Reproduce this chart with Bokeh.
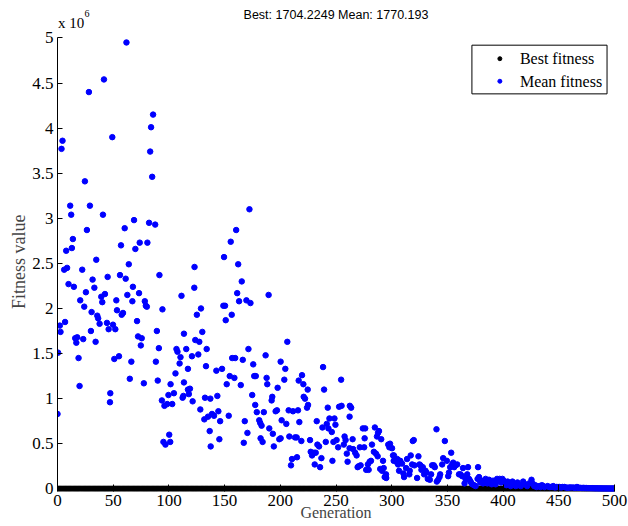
from bokeh.plotting import figure
from bokeh.models import ColumnDataSource, Range1d, FixedTicker, NumeralTickFormatter, Span
from bokeh.embed import file_html
from bokeh.resources import INLINE
from bokeh.core.properties import value

# ---------------- data (fitness values in units of 10^6) ----------------
gens_a = [61.9, 41.7, 28.2, 85.8, 84.0, 4.5, 3.6, 49.2, 83.2, 85.0, 24.6, 11.4, 29.1, 12.3, 40.8,
          68.7, 82.2, 87.7, 26.4, 60.3, 13.8, 57.0, 73.8, 80.7, 7.8, 12.9, 69.9, 34.8, 64.0, 123.0,
          6.0, 8.6, 22.2, 91.5, 45.0, 56.1, 61.2, 31.5]
vals_a = [4.95, 4.54, 4.40, 4.15, 4.01, 3.86, 3.77, 3.90, 3.74, 3.46, 3.41, 3.14, 3.14, 3.04, 3.04,
          2.98, 2.95, 2.93, 2.87, 2.89, 2.77, 2.70, 2.73, 2.73, 2.64, 2.67, 2.66, 2.54, 2.49, 2.46,
          2.43, 2.45, 2.43, 2.37, 2.35, 2.37, 2.33, 2.32]

gens_b = [9.9, 14.7, 33.1, 67.7, 25.5, 42.6, 39.3, 40.2, 73.2, 62.7, 67.2, 20.4, 52.8, 78.4, 79.3,
          80.2, 24.0, 94.2, 128.8, 53.4, 30.6, 58.8, 57.6, 125.1, 111.3, 122.8, 35.7, 36.5, 71.4, 6.8,
          44.4, 37.8, 49.8, 2.1, 45.9, 51.9, 30.0, 89.2, 2.7, 113.5, 130.0, 72.3, 75.6, 15.9, 17.7,
          23.1, 123.7, 127.3, 34.2, 16.9, 74.8, 91.0, 106.8, 115.6, 133.9, 107.7, 0.5, 126.4, 55.2, 110.4,
          120.7, 18.9, 51.0, 66.3, 88.3, 109.6, 133.3, 117.1, 105.9, 64.9, 90.0, 77.5, 101.5, 113.5, 19.8,
          117.1, 118.9, 104.5, 47.4, 112.3, 113.0, 117.9, 99.6, 132.4, 93.7, 137.2, 121.3, 47.1, 98.5, 103.0,
          96.0, 128.2, 135.1, 131.8, 0.0, 136.6, 100.3, 95.1, 101.2, 96.9, 137.5]
vals_b = [2.27, 2.24, 2.23, 2.24, 2.18, 2.16, 2.13, 2.07, 2.17, 2.15, 2.08, 2.09, 2.09, 2.08, 2.03,
          2.02, 2.02, 1.99, 2.00, 1.98, 1.96, 1.95, 1.93, 1.93, 2.14, 2.23, 1.92, 1.89, 1.86, 1.85,
          1.84, 1.83, 1.82, 1.81, 1.77, 1.77, 1.75, 1.75, 1.74, 1.72, 1.74, 1.69, 1.67, 1.67, 1.68,
          1.66, 1.65, 1.63, 1.63, 1.62, 1.59, 1.56, 1.55, 1.55, 1.55, 1.52, 1.51, 1.49, 1.47, 1.46,
          1.47, 1.45, 1.44, 1.41, 1.41, 1.39, 1.36, 1.33, 1.28, 1.22, 1.20, 1.17, 1.16, 1.18, 1.14,
          1.10, 1.11, 1.06, 1.06, 1.01, 1.03, 1.05, 1.04, 1.01, 0.98, 1.00, 0.97, 0.96, 0.94, 0.94,
          0.92, 0.88, 0.80, 0.77, 0.83, 0.64, 0.60, 0.52, 0.52, 0.49, 0.47]

gens_c = [172.3, 160.4, 155.5, 149.5, 162.2, 165.4, 161.3, 189.5, 163.0, 169.6, 173.2, 148.9, 150.4, 156.4, 151.0,
          206.3, 171.4, 186.8, 156.8, 159.5, 166.3, 175.7, 200.3, 204.5, 238.4, 142.6, 147.7, 154.6, 176.6, 178.0,
          187.7, 158.8, 219.5, 203.6, 216.5, 254.6, 151.9, 188.3, 220.7, 164.5, 197.6, 224.6, 239.3, 174.8, 143.5,
          192.8, 192.2, 221.0, 222.2, 177.5, 224.9, 224.0, 207.5, 211.4, 215.9, 197.0, 195.8, 252.8, 255.0, 262.4,
          242.6, 144.4, 178.9, 185.2, 153.7, 138.7, 140.5, 146.0, 168.1, 201.2, 181.1, 182.0, 183.2, 217.1, 205.4,
          244.1, 248.6, 262.2, 232.7, 241.7, 243.2, 249.5, 237.8, 190.1, 246.2, 193.3, 170.5, 208.1, 213.2, 214.7,
          199.1, 200.3, 218.9, 145.3, 182.3, 184.1, 167.2, 194.2, 226.7, 257.7, 258.6, 250.5, 247.7, 251.9, 257.0,
          240.8, 233.3, 234.8, 262.2, 227.3, 228.5, 230.3, 231.8, 236.9, 259.7, 215.0, 210.5, 209.6, 230.9, 235.7,
          246.8, 260.4]
vals_c = [3.10, 2.87, 2.74, 2.57, 2.49, 2.30, 2.17, 2.15, 2.08, 2.09, 2.06, 2.03, 2.03, 1.93, 1.87,
          1.63, 1.55, 1.48, 1.45, 1.45, 1.43, 1.38, 1.41, 1.33, 1.35, 1.31, 1.33, 1.25, 1.25, 1.25,
          1.23, 1.23, 1.26, 1.21, 1.20, 1.21, 1.16, 1.16, 1.16, 1.15, 1.12, 1.10, 1.10, 1.04, 1.03,
          1.02, 0.98, 1.02, 1.00, 0.93, 0.93, 0.90, 0.87, 0.86, 0.87, 0.87, 0.86, 0.91, 0.92, 0.92,
          0.90, 0.86, 0.85, 0.85, 0.81, 0.83, 0.81, 0.75, 0.75, 0.76, 0.76, 0.73, 0.70, 0.74, 0.72,
          0.78, 0.78, 0.80, 0.75, 0.72, 0.67, 0.71, 0.68, 0.67, 0.63, 0.61, 0.62, 0.58, 0.57, 0.57,
          0.55, 0.56, 0.53, 0.55, 0.56, 0.52, 0.51, 0.47, 0.54, 0.58, 0.54, 0.54, 0.52, 0.46, 0.49,
          0.52, 0.49, 0.47, 0.45, 0.41, 0.37, 0.40, 0.40, 0.34, 0.39, 0.35, 0.33, 0.26, 0.27, 0.24,
          0.31, 0.30]

gens_d = [263.6, 264.9, 265.4, 267.2, 268.5, 270.3, 272.1, 271.4, 275.3, 274.1, 276.2, 275.7, 269.4, 277.1, 279.3,
          278.6, 280.2, 281.4, 282.3, 284.9, 287.7, 286.8, 288.6, 290.6, 285.9, 287.4, 284.0, 292.2, 289.7, 291.3,
          293.7, 295.1, 294.9, 292.8, 296.9, 298.5, 300.3, 297.9, 301.2, 301.8, 303.0, 304.1, 302.0, 305.0, 305.7,
          307.7, 309.3, 306.6, 310.5, 311.1, 312.9, 313.8, 317.1, 318.9, 319.8, 318.3, 320.4, 316.2, 315.8, 322.8,
          324.0, 324.9, 325.8, 326.7, 327.9, 329.1, 330.3, 331.2, 332.4, 334.2, 335.4, 336.3, 337.8, 338.7, 340.2,
          340.5, 341.7, 342.9, 343.5, 345.3, 346.2, 347.7, 349.5, 350.7, 351.4, 352.5, 353.4, 354.3, 355.2, 356.1,
          357.3, 358.8, 360.4, 361.8, 364.0, 363.3, 365.4, 366.3, 367.2, 367.8, 368.5, 369.4, 370.3, 371.2, 372.3,
          373.9, 375.3, 377.5, 377.1, 378.4, 379.5, 380.7, 382.0, 383.2, 384.3, 385.9, 387.4, 388.6, 389.7, 391.0,
          392.2, 393.3, 394.6, 395.8, 396.9, 398.2, 399.4, 400.5, 401.8, 403.0, 404.1, 405.4, 406.8, 408.4, 409.9,
          411.4, 412.9, 414.4, 415.9, 418.0, 419.8, 421.6, 423.4, 425.5, 426.4, 427.9, 428.9, 430.0, 432.4, 433.5,
          434.8, 436.0, 437.2, 439.9, 441.4, 442.9, 444.0, 445.0, 446.5, 448.0, 449.3, 450.5, 452.0, 453.4, 455.0,
          456.4, 458.0, 459.4, 461.0, 463.0, 464.5, 466.3]
vals_d = [0.90, 0.55, 0.44, 0.40, 0.37, 0.25, 0.26, 0.46, 0.46, 0.67, 0.67, 0.56, 0.24, 0.21, 0.21,
          0.27, 0.30, 0.31, 0.49, 0.68, 0.62, 0.58, 0.64, 0.55, 0.39, 0.36, 0.41, 0.31, 0.22, 0.20,
          0.13, 0.12, 0.16, 0.23, 0.49, 0.50, 0.45, 0.46, 0.37, 0.31, 0.33, 0.30, 0.37, 0.33, 0.27,
          0.31, 0.28, 0.20, 0.17, 0.13, 0.23, 0.33, 0.37, 0.53, 0.54, 0.27, 0.26, 0.20, 0.16, 0.12,
          0.36, 0.27, 0.26, 0.21, 0.24, 0.16, 0.20, 0.18, 0.11, 0.10, 0.16, 0.26, 0.26, 0.24, 0.66,
          0.08, 0.10, 0.13, 0.16, 0.27, 0.34, 0.53, 0.31, 0.14, 0.18, 0.24, 0.40, 0.27, 0.29, 0.24,
          0.26, 0.27, 0.16, 0.16, 0.23, 0.14, 0.06, 0.11, 0.14, 0.16, 0.24, 0.11, 0.09, 0.07, 0.05,
          0.04, 0.03, 0.24, 0.11, 0.13, 0.07, 0.09, 0.06, 0.09, 0.11, 0.06, 0.10, 0.08, 0.05, 0.09,
          0.07, 0.05, 0.11, 0.09, 0.11, 0.07, 0.11, 0.09, 0.06, 0.04, 0.08, 0.06, 0.03, 0.08, 0.05,
          0.03, 0.07, 0.04, 0.03, 0.08, 0.05, 0.03, 0.06, 0.10, 0.06, 0.03, 0.04, 0.02, 0.03, 0.02,
          0.04, 0.03, 0.02, 0.03, 0.02, 0.02, 0.02, 0.03, 0.015, 0.02, 0.02, 0.02, 0.015, 0.02, 0.02,
          0.015, 0.01, 0.015, 0.015, 0.015, 0.01, 0.02]

gens_e = [467, 468, 469, 470, 471, 472, 473, 474, 475, 476, 477, 478, 479, 480, 481, 482, 483,
          484, 485, 486, 487, 488, 489, 490, 491, 492, 493, 494, 495, 496, 497, 498, 499, 500]
vals_e = [0.012, 0.010, 0.011, 0.009, 0.008, 0.010, 0.008, 0.007, 0.008, 0.006, 0.007, 0.006,
          0.005, 0.006, 0.005, 0.005, 0.004, 0.005, 0.004, 0.004, 0.003, 0.004, 0.003, 0.003,
          0.003, 0.003, 0.002, 0.003, 0.002, 0.002, 0.002, 0.002, 0.002, 0.002]

mean_gen = gens_a + gens_b + gens_c + gens_d + gens_e
mean_val = vals_a + vals_b + vals_c + vals_d + vals_e

# best fitness: every generation sits on the zero line at this scale (final best 1704.2249)
best_gen = list(range(0, 501))
best_val = [0.0017] * len(best_gen)

title_text = "Best: 1704.2249 Mean: 1770.193"
x_ticks = [0, 50, 100, 150, 200, 250, 300, 350, 400, 450, 500]
y_ticks = [0, 0.5, 1, 1.5, 2, 2.5, 3, 3.5, 4, 4.5, 5]
legend_labels = ["Best fitness", "Mean fitness"]

SERIF = "Liberation Serif"
SANS = "Liberation Sans"

# frame spans from the top of the page down to just below the zero line, so the
# title and the "x 10^6" exponent can sit inside it (above the y = 5 limit)
Y_TOP = 5.4155
p = figure(width=628, height=526, output_backend="svg", toolbar_location=None,
           x_range=Range1d(0, 500), y_range=Range1d(-0.03, Y_TOP),
           min_border_left=57, min_border_right=14, min_border_top=0, min_border_bottom=35)
p.outline_line_color = None
p.xgrid.visible = False
p.ygrid.visible = False
p.background_fill_color = "white"
p.border_fill_color = "white"

for ax in (p.xaxis[0], p.yaxis[0]):
    ax.major_tick_out = 0
    ax.minor_tick_line_color = None
    ax.major_tick_line_color = "black"
    ax.major_label_text_font = SERIF
    ax.major_label_text_font_size = "17px"
    ax.major_label_text_color = "black"

p.xaxis.axis_line_color = None
p.yaxis.axis_line_color = "black"
p.yaxis.axis_line_width = 1
p.yaxis.bounds = (0, 5)
p.xaxis.major_label_standoff = 3
p.yaxis.major_label_standoff = 4
p.xaxis.major_tick_in = 7
p.yaxis.major_tick_in = 5
p.xaxis.ticker = FixedTicker(ticks=x_ticks)
p.yaxis.ticker = FixedTicker(ticks=y_ticks)
p.yaxis.formatter = NumeralTickFormatter(format="0.[0]")
# trailing no-break spaces shift the centred label down to the middle of the 0..5 span
p.yaxis.axis_label = "Fitness value" + "\u00a0" * 7
p.yaxis.axis_label_text_font = SERIF
p.yaxis.axis_label_text_font_size = "18px"
p.yaxis.axis_label_text_font_style = "normal"
p.yaxis.axis_label_standoff = 0

p.xaxis.axis_label = "Generation"
p.xaxis.axis_label_text_font = SERIF
p.xaxis.axis_label_text_font_size = "16px"
p.xaxis.axis_label_text_font_style = "normal"
p.xaxis.axis_label_standoff = -5

# x axis line at zero (beneath the markers, as in MATLAB)
p.add_layout(Span(location=0, dimension="width", line_color="black", line_width=1, level="underlay"))

best_src = ColumnDataSource(dict(x=best_gen, y=best_val))
mean_src = ColumnDataSource(dict(x=mean_gen, y=mean_val))
p.scatter("x", "y", source=best_src, size=5, color="black")
p.scatter("x", "y", source=mean_src, size=5.5, color="#0000FF")

# legend box (MATLAB style, top right)
p.quad(left=[372.0], right=[493.3], top=[4.92], bottom=[4.38],
       fill_color="white", line_color="black", line_width=1)
p.scatter(x=[397.1, 397.1], y=[4.77, 4.52], size=4, color=["black", "#0000FF"])
p.text(x=[415.1, 415.1], y=[4.77, 4.52], text=legend_labels,
       text_font=value(SERIF), text_font_size="16px", text_baseline="middle",
       text_align="left", text_color="black")

# title and exponent (above the y = 5 limit)
p.text(x=[250], y=[5.252], text=[title_text], text_font=value(SANS), text_font_size="12.5px",
       text_align="center", text_baseline="middle", text_color="black")
p.text(x=[0.4], y=[5.17], text=["x 10"], text_font=value(SERIF), text_font_size="15px",
       text_align="left", text_baseline="alphabetic", text_color="black")
p.text(x=[24.3], y=[5.27], text=["6"], text_font=value(SERIF), text_font_size="10px",
       text_align="left", text_baseline="alphabetic", text_color="black")

open("out.html", "w").write(file_html(p, INLINE))
